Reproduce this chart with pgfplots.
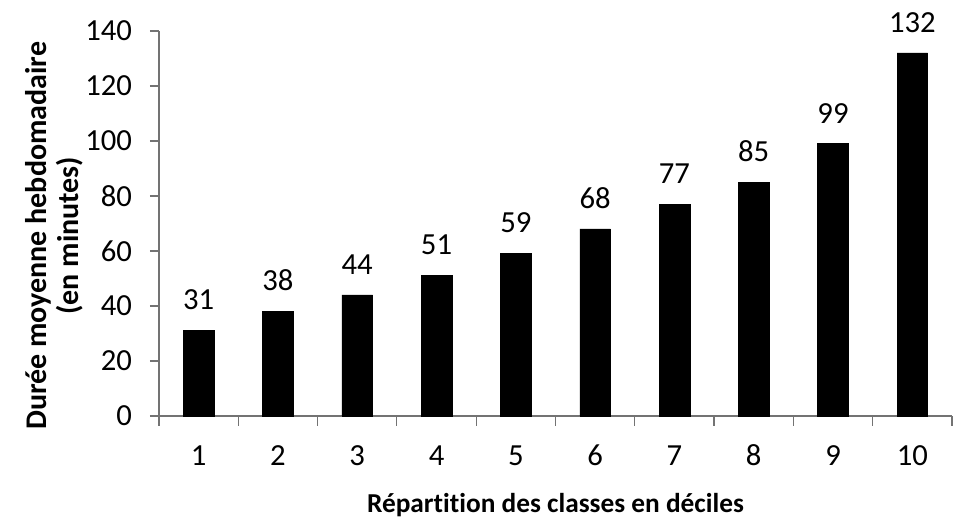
\documentclass[border=0pt]{standalone}
\usepackage{fontspec}
\setmainfont{Carlito}[Ligatures=NoCommon]
\usepackage{pgfplots}
\pgfplotsset{compat=1.18}
\begin{document}
\begin{tikzpicture}
\begin{axis}[
    scale only axis,
    width=594.75pt, height=288.75pt,
    ybar, bar width=23pt,
    xmin=0.5, xmax=10.5, ymin=0, ymax=140,
    axis x line*=bottom, axis y line*=left,
    axis line style={black!55, line width=0.9pt},
    every tick/.style={black!55, line width=0.9pt},
    tick align=outside,
    xtick={1,...,10},
    major x tick style={draw=none},
    minor xtick={0.5,1.5,...,10.5},
    minor tick length=7.5pt,
    ytick={0,20,...,140},
    major tick length=6.75pt,
    /pgf/number format/assume math mode=true,
    ticklabel style={font=\fontsize{23}{26}\selectfont},
    xticklabel style={yshift=-12pt, text height=15pt, text depth=0pt},
    yticklabel style={xshift=-10pt},
    xlabel={\textbf{Répartition des classes en déciles}},
    xlabel style={font=\fontsize{20.5}{24}\selectfont, yshift=-14pt},
    ylabel={\textbf{Durée moyenne hebdomadaire}\\\textbf{(en minutes)}},
    ylabel style={font=\fontsize{22.5}{23.5}\selectfont, align=center,
        at={(ticklabel cs:0.468,-5pt)}},
    nodes near coords,
    every node near coord/.append style={font=\fontsize{23}{26}\selectfont, yshift=12pt},
    clip=false,
]
\addplot[fill=black, draw=black] coordinates {
(1,31) (2,38) (3,44) (4,51) (5,59) (6,68) (7,77) (8,85) (9,99) (10,132)
};
\coordinate (bl) at (rel axis cs:-0.2005,-0.2857);
\coordinate (tr) at (rel axis cs:1.0076,1.0805);
\end{axis}
\pgfresetboundingbox
\useasboundingbox (bl) rectangle (tr);
\end{tikzpicture}
\end{document}
